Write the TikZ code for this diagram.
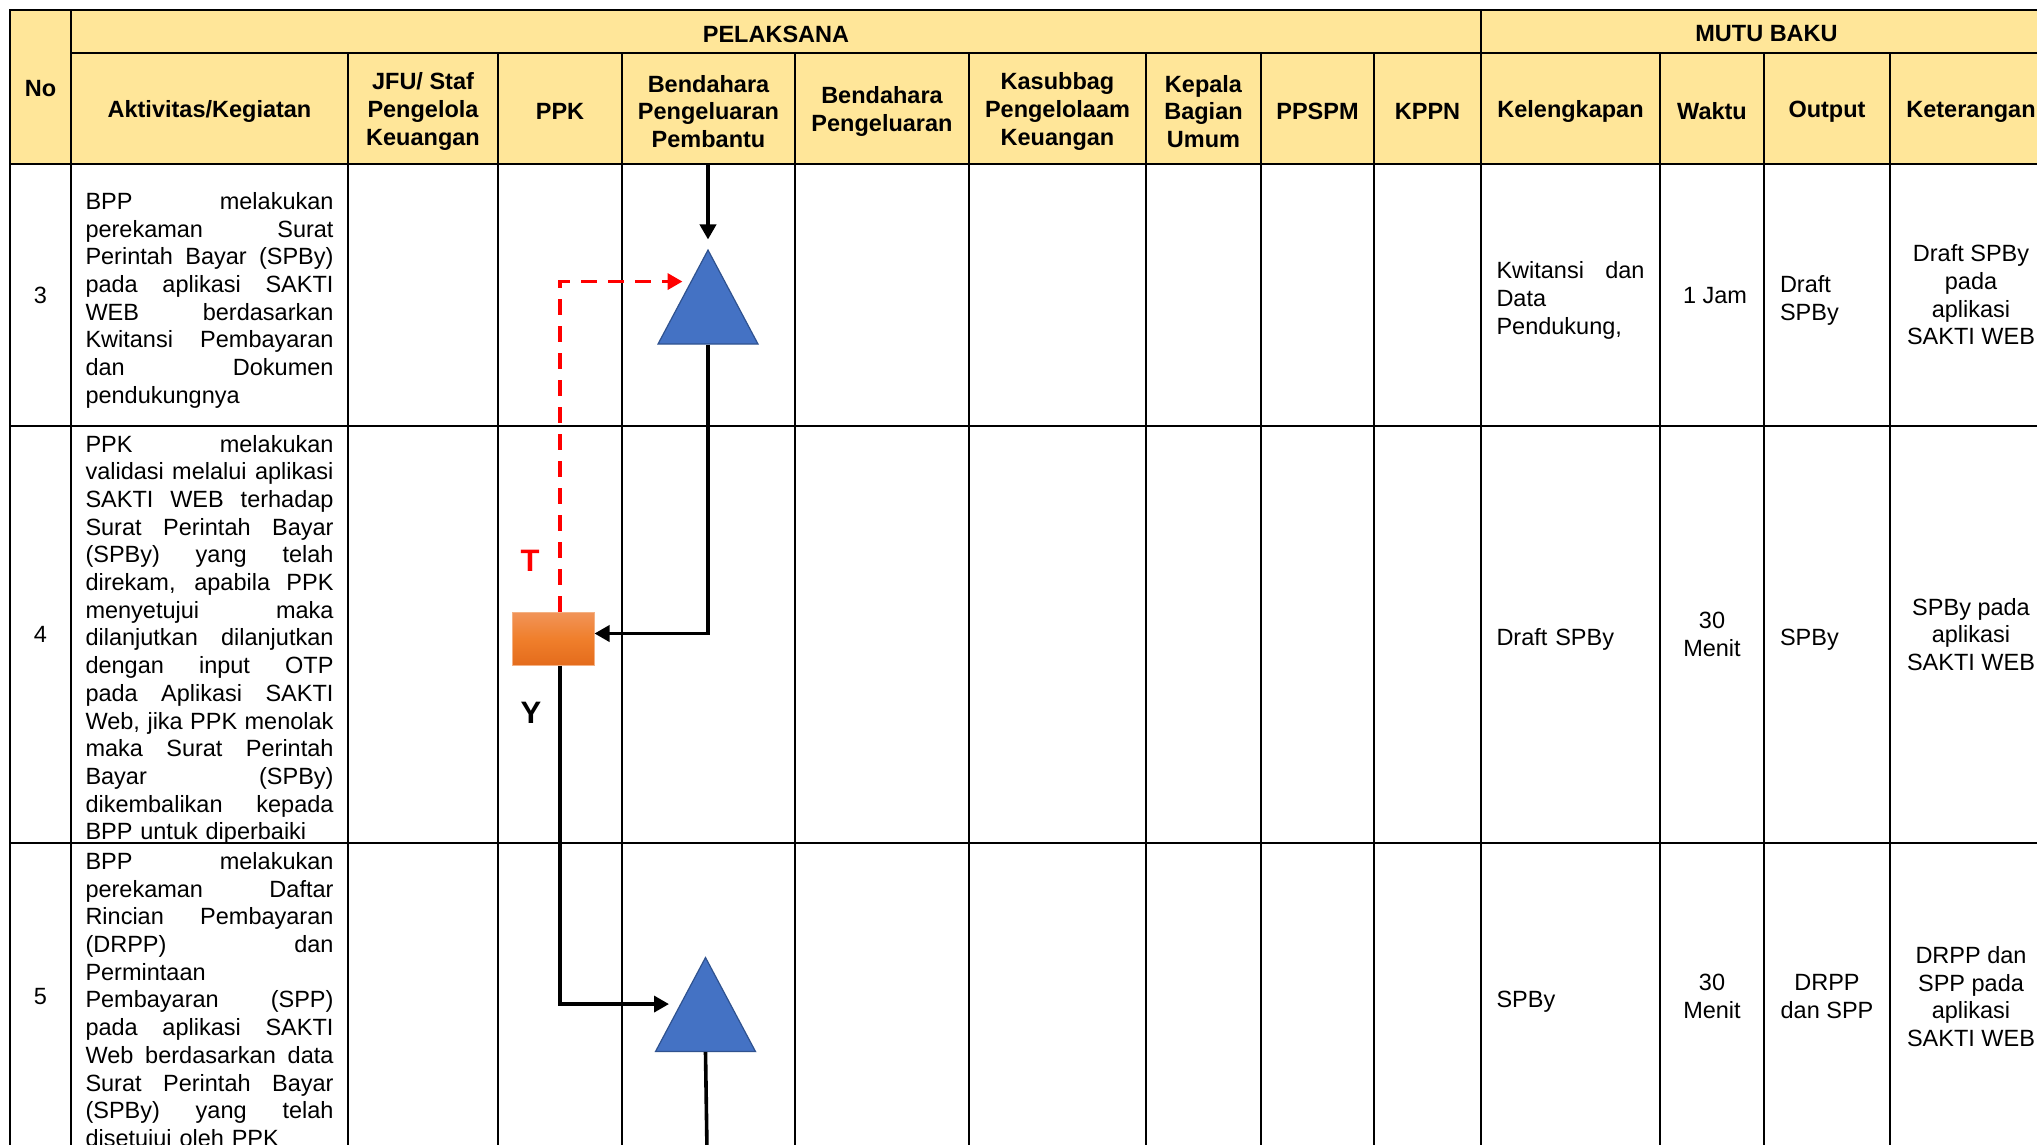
\documentclass[tikz,border=0pt]{standalone}
\usepackage{fontspec}
\setmainfont{Liberation Sans}
\usetikzlibrary{arrows.meta,shapes.geometric}
\definecolor{headgold}{HTML}{FFE699}
\definecolor{flowblue}{HTML}{4472C4}
\definecolor{flowedge}{HTML}{2F528F}
\definecolor{decitop}{HTML}{F19459}
\definecolor{decimid}{HTML}{F07F2C}
\definecolor{decibot}{HTML}{E46C1C}
\definecolor{deciedge}{HTML}{F4B183}
\newcommand{\fH}{\fontsize{23.5}{27.7}\selectfont\bfseries}
\newcommand{\fB}{\fontsize{23.5}{27.7}\selectfont\mdseries}
\newcommand{\fL}{\fontsize{31}{36}\selectfont\bfseries}
\newcommand{\jline}[1]{\par\hbox to\hsize{\spaceskip=0.278em plus 1fil\relax #1}}
\newcommand{\lline}[1]{\par\hbox to\hsize{#1\hfil}}

\begin{document}
\begin{tikzpicture}[x=1pt,y=-1pt,
    grid/.style={draw=black,line width=2.6pt,line cap=rect},
    hd/.style={inner sep=0pt,align=center,font=\fH},
    txt/.style={inner sep=0pt,align=center,font=\fB},
    para/.style={inner sep=0pt,font=\fB,text width=#1},
    lbl/.style={inner sep=0pt,font=\fL},
    merge/.style={isosceles triangle,isosceles triangle stretches,shape border rotate=90,
      minimum width=100pt,minimum height=94pt,inner sep=0pt,
      fill=flowblue,draw=flowedge,line width=1.2pt},
    decision/.style={rectangle,minimum width=82pt,minimum height=53pt,inner sep=0pt,
      draw=deciedge,line width=1pt,top color=decitop,bottom color=decibot,middle color=decimid},
    lnk/.style={draw=black,line width=3.6pt},
    arr/.style={lnk,-{Triangle[length=15pt,width=16pt]}},
    back/.style={draw=red,line width=3.6pt,dash pattern=on 16pt off 11pt,
      -{Triangle[length=15pt,width=16pt]}}]
  \useasboundingbox (0,0) rectangle (2037,1144);
  \clip (0,0) rectangle (2037,1144);
  \fill[white] (0,0) rectangle (2037,1144);

  % header band and table rules
  \fill[headgold] (10,10) rectangle (2052,164);
  \draw[grid] (10,10) -- (2052,10) (71,53) -- (2052,53) (10,164) -- (2052,164)
    (10,426) -- (2052,426) (10,843) -- (2052,843) (10,1150) -- (2052,1150);
  \draw[grid] (10,10) -- (10,1150) (71,10) -- (71,1150) (1481,10) -- (1481,1150)
    (2052,10) -- (2052,1150);
  \draw[grid] \foreach \x in {348,498,622,795,969,1146,1261,1374,1660,1764,1890}
    {(\x,53) -- (\x,1150)};

  % column heads
  \node[hd] (hNo) at (40.5,89) {No};
  \node[hd] (hPel) at (776,34) {PELAKSANA};
  \node[hd] (hMutu) at (1766.5,34) {MUTU BAKU};
  \node[hd] (hAkt) at (209.5,111.5) {Aktivitas/Kegiatan};
  \node[hd] (hJfu) at (423,111.5) {JFU/ Staf\\Pengelola\\Keuangan};
  \node[hd] (hPpk) at (560,111.5) {PPK};
  \node[hd] (hBpp) at (708.5,111.5) {Bendahara\\Pengeluaran\\Pembantu};
  \node[hd] (hBp) at (882,111.5) {Bendahara\\Pengeluaran};
  \node[hd] (hKsb) at (1057.5,111.5) {Kasubbag\\Pengelolaam\\Keuangan};
  \node[hd] (hKbu) at (1203.5,111.5) {Kepala\\Bagian\\Umum};
  \node[hd] (hPpspm) at (1317.5,111.5) {PPSPM};
  \node[hd] (hKppn) at (1427.5,111.5) {KPPN};
  \node[hd] (hKel) at (1570.5,111.5) {Kelengkapan};
  \node[hd] (hWkt) at (1712,111.5) {Waktu};
  \node[hd] (hOut) at (1827,111.5) {Output};
  \node[hd] (hKet) at (1971,111.5) {Keterangan};

  % row 3
  \node[txt] (n3) at (40.5,295) {3};
  \node[para=248pt] (a3) at (209.5,295) {\jline{BPP melakukan}\jline{perekaman Surat}%
    \jline{Perintah Bayar (SPBy)}\jline{pada aplikasi SAKTI}\jline{WEB berdasarkan}%
    \jline{Kwitansi Pembayaran}\jline{dan Dokumen}\lline{pendukungnya}};
  \node[para=148pt] (k3) at (1570.5,295) {\jline{Kwitansi dan}\lline{Data}\lline{Pendukung,}};
  \node[txt] (w3) at (1715,296) {1 Jam};
  \node[para=94pt] (o3) at (1827,295) {\lline{Draft}\lline{SPBy}};
  \node[txt] (c3) at (1971,295) {Draft SPBy\\pada\\aplikasi\\SAKTI WEB};

  % row 4
  \node[txt] (n4) at (40.5,634.5) {4};
  \node[para=248pt] (a4) at (209.5,634.5) {\jline{PPK melakukan}\jline{validasi melalui aplikasi}%
    \jline{SAKTI WEB terhadap}\jline{Surat Perintah Bayar}\jline{(SPBy) yang telah}%
    \jline{direkam, apabila PPK}\jline{menyetujui maka}\jline{dilanjutkan dilanjutkan}%
    \jline{dengan input OTP}\jline{pada Aplikasi SAKTI}\jline{Web, jika PPK menolak}%
    \jline{maka Surat Perintah}\jline{Bayar (SPBy)}\jline{dikembalikan kepada}%
    \lline{BPP untuk diperbaiki}};
  \node[para=148pt] (k4) at (1570.5,634.5) {\lline{Draft SPBy}};
  \node[txt] (w4) at (1712,634.5) {30\\Menit};
  \node[para=94pt] (o4) at (1827,634.5) {\lline{SPBy}};
  \node[txt] (c4) at (1971,634.5) {SPBy pada\\aplikasi\\SAKTI WEB};

  % row 5
  \node[txt] (n5) at (40.5,996.5) {5};
  \node[para=248pt] (a5) at (209.5,996.5) {\jline{BPP melakukan}\jline{perekaman Daftar}%
    \jline{Rincian Pembayaran}\jline{(DRPP) dan}\lline{Permintaan}\jline{Pembayaran (SPP)}%
    \jline{pada aplikasi SAKTI}\jline{Web berdasarkan data}\jline{Surat Perintah Bayar}%
    \jline{(SPBy) yang telah}\lline{disetujui oleh PPK}};
  \node[para=148pt] (k5) at (1570.5,996.5) {\lline{SPBy}};
  \node[txt] (w5) at (1712,996.5) {30\\Menit};
  \node[txt] (o5) at (1827,996.5) {DRPP\\dan SPP};
  \node[txt] (c5) at (1971,996.5) {DRPP dan\\SPP pada\\aplikasi\\SAKTI WEB};

  % flow symbols
  \node[merge] (tri1) at (708,314) {};
  \node[decision] (tbox) at (553,638.5) {};
  \node[merge] (tri2) at (705.5,1021.5) {};
  \node[lbl,text=red] (lblT) at (530,560.5) {T};
  \node[lbl] (lblY) at (531,712.5) {Y};
  \coordinate (in3) at (708,164);
  \coordinate (out5) at (707,1150);

  % connectors
  \draw[arr,shorten >=9pt] (in3) -- (tri1.apex);
  \draw[arr] (tri1.lower side) |- ([yshift=5pt]tbox.east);
  \draw[back] ([xshift=7pt]tbox.north) |- ([yshift=15pt]tri1.left side);
  \draw[arr,shorten >=11pt] ([xshift=7pt]tbox.south) |- (tri2.left side);
  \draw[lnk] (tri2.lower side) -- (out5);
\end{tikzpicture}
\end{document}
